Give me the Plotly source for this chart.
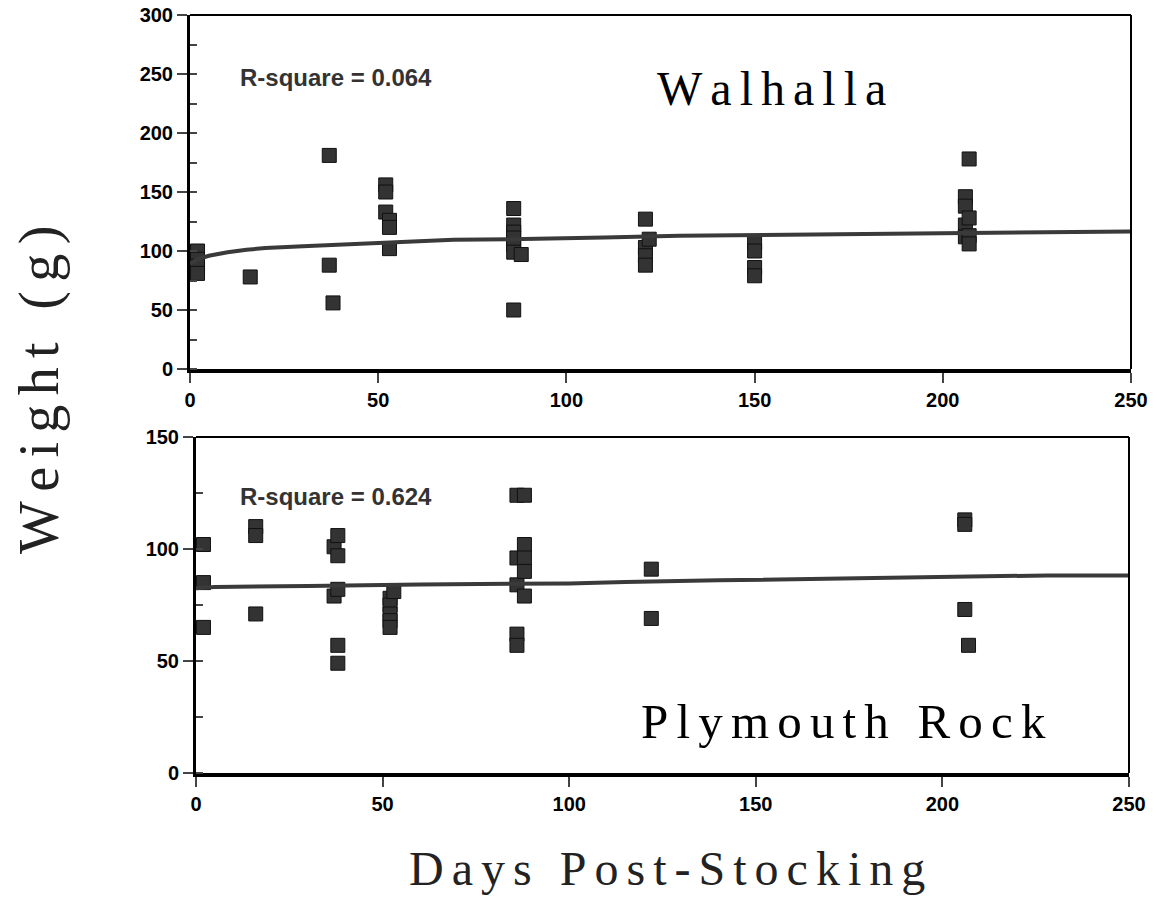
import plotly.graph_objects as go

# Walhalla (top panel)
walhalla_days = [2, 2, 2, 2, 16, 37, 37, 38, 52, 52, 52, 53, 53, 53,
                 86, 86, 86, 86, 86, 86, 86, 88,
                 121, 121, 121, 121, 122, 150, 150, 150, 150,
                 206, 206, 206, 206, 207, 207, 207, 207]
walhalla_wt = [100, 93, 87, 81, 78, 181, 88, 56, 156, 150, 133, 126, 120, 102,
               136, 122, 116, 111, 105, 99, 50, 97,
               127, 103, 96, 88, 110, 107, 100, 86, 79,
               146, 138, 122, 112, 178, 128, 113, 106]
walhalla_fit_days = [0, 2, 5, 10, 15, 20, 30, 40, 50, 60, 70, 85, 100, 110, 130, 160, 200, 240, 250]
walhalla_fit_wt = [89, 93, 96, 99, 101, 102.5, 104, 105.5, 107, 108, 109.5, 110, 110.5,
                   111.5, 113, 114, 115, 116.5, 116.5]

# Plymouth Rock (bottom panel)
plymouth_days = [2, 2, 2, 16, 16, 16, 37, 37, 38, 38, 38, 38, 38,
                 52, 52, 52, 52, 52, 53,
                 86, 86, 86, 86, 86, 88, 88, 88, 88, 88,
                 122, 122, 206, 206, 206, 207]
plymouth_wt = [102, 85, 65, 110, 106, 71, 101, 79, 106, 97, 82, 57, 49,
               78, 75, 71, 68, 65, 81,
               124, 96, 84, 62, 57, 124, 102, 96, 90, 79,
               91, 69, 113, 111, 73, 57]
plymouth_fit_days = [0, 5, 30, 60, 100, 115, 140, 170, 200, 228, 250]
plymouth_fit_wt = [82.5, 83, 83.5, 84.2, 84.6, 85.3, 86, 86.7, 87.5, 88.2, 88.2]

x_ticks = [0, 50, 100, 150, 200, 250]

W, H = 1157, 904
MARK = "#333333"
LINE = "#3a3a3a"
SANS = "Arial, Liberation Sans, sans-serif"
SERIF = "Times New Roman, Liberation Serif, serif"

# panel boxes in page pixels: (left, top, right, bottom)
TOP_BOX = (190, 15, 1131, 369)
BOT_BOX = (196, 437, 1129, 773)


def px(x):
    return x / W


def py(y):
    return 1 - y / H


def spaced(text):
    """Spread letters apart with hair spaces (no letter-spacing in plotly)."""
    return "\u200a\u200a".join(text)


fig = go.Figure()

fig.add_trace(go.Scatter(
    x=walhalla_days, y=walhalla_wt, mode="markers", xaxis="x", yaxis="y",
    marker=dict(symbol="square", size=14, color=MARK, line=dict(color="#111", width=1)),
))
fig.add_trace(go.Scatter(
    x=walhalla_fit_days, y=walhalla_fit_wt, mode="lines", xaxis="x", yaxis="y",
    line=dict(color=LINE, width=4),
))
fig.add_trace(go.Scatter(
    x=plymouth_days, y=plymouth_wt, mode="markers", xaxis="x2", yaxis="y2",
    marker=dict(symbol="square", size=14, color=MARK, line=dict(color="#111", width=1)),
))
fig.add_trace(go.Scatter(
    x=plymouth_fit_days, y=plymouth_fit_wt, mode="lines", xaxis="x2", yaxis="y2",
    line=dict(color=LINE, width=4),
))

xcommon = dict(
    range=[0, 250], tickvals=x_ticks, ticks="outside", ticklen=10, tickwidth=2,
    showline=True, linewidth=3.5, linecolor="black", showgrid=False, zeroline=False,
    automargin=False, ticklabeloverflow="allow",
    tickfont=dict(family=SANS, size=20, color="black", weight="bold"),
)
ycommon = dict(
    ticks="outside", ticklen=10, tickwidth=2,
    showline=True, linewidth=3, linecolor="black", showgrid=False, zeroline=False,
    automargin=False, ticklabeloverflow="allow",
    tickfont=dict(family=SANS, size=20, color="black", weight="bold"),
)

fig.update_layout(
    width=W, height=H,
    margin=dict(l=0, r=0, t=0, b=0),
    plot_bgcolor="white", paper_bgcolor="white",
    showlegend=False,
    xaxis=dict(domain=[px(TOP_BOX[0]), px(TOP_BOX[2])], anchor="y", **xcommon),
    yaxis=dict(domain=[py(TOP_BOX[3]), py(TOP_BOX[1])], anchor="x", range=[0, 300],
               tickvals=[0, 50, 100, 150, 200, 250, 300],
               minor=dict(dtick=25, ticks="inside", ticklen=7, tickwidth=2),
               **ycommon),
    xaxis2=dict(domain=[px(BOT_BOX[0]), px(BOT_BOX[2])], anchor="y2", **xcommon),
    yaxis2=dict(domain=[py(BOT_BOX[3]), py(BOT_BOX[1])], anchor="x2", range=[0, 150],
                tickvals=[0, 50, 100, 150],
                minor=dict(dtick=25, ticks="inside", ticklen=7, tickwidth=2),
                **ycommon),
)

# thin frame on top and right of each panel (paper refs so it is not clipped)
for l, t, r, b in [TOP_BOX, BOT_BOX]:
    fig.add_shape(type="line", xref="paper", yref="paper",
                  x0=px(l), x1=px(r), y0=py(t), y1=py(t), line=dict(color="black", width=2))
    fig.add_shape(type="line", xref="paper", yref="paper",
                  x0=px(r), x1=px(r), y0=py(b), y1=py(t), line=dict(color="black", width=2))

annos = [
    dict(x=12.8, y=247, xref="x", yref="y", text="R-square = 0.064", xanchor="left",
         font=dict(family=SANS, size=24, color="#333", weight="bold")),
    dict(x=11.3, y=123.5, xref="x2", yref="y2", text="R-square = 0.624", xanchor="left",
         font=dict(family=SANS, size=24, color="#333", weight="bold")),
    dict(x=154.4, y=238, xref="x", yref="y", text=spaced("Walhalla"),
         font=dict(family=SERIF, size=48, color="black")),
    dict(x=173.5, y=23, xref="x2", yref="y2", text=spaced("Plymouth Rock"),
         font=dict(family=SERIF, size=49, color="black")),
    dict(x=px(667), y=py(868), xref="paper", yref="paper", text=spaced("Days Post-Stocking"),
         font=dict(family=SERIF, size=48, color="#222")),
    dict(x=px(40), y=py(390), xref="paper", yref="paper", text=spaced("Weight (g)"),
         textangle=-90, font=dict(family=SERIF, size=56, color="#222")),
]
for a in annos:
    a.setdefault("xanchor", "center")
    fig.add_annotation(showarrow=False, yanchor="middle", **a)

# drop the default 8px body margin so the figure fills the window
fig.write_html("out.html", config={"displayModeBar": False},
               post_script="document.body.style.margin = '0';")
